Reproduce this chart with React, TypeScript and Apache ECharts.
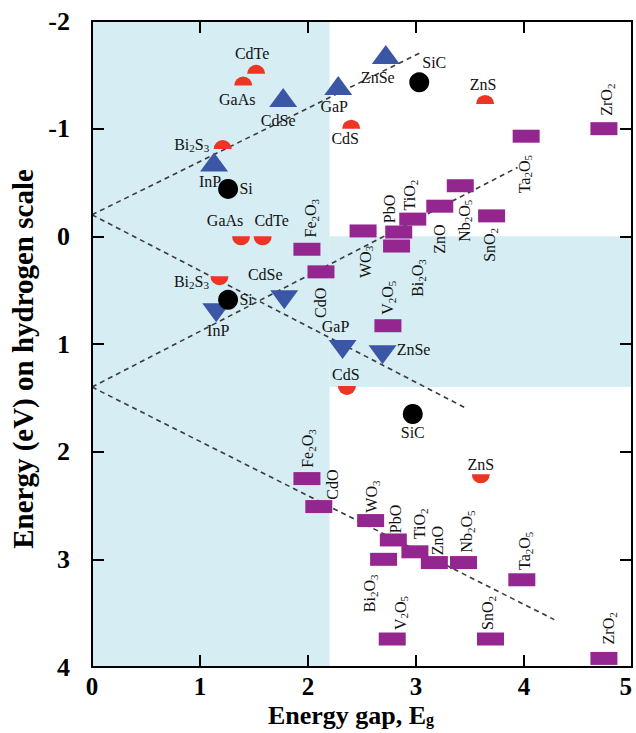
import React, { useEffect, useRef } from "react";
import * as echarts from "echarts";

// ---------- data ----------
const xTicks = [0, 1, 2, 3, 4, 5];
const yTicks = [-2, -1, 0, 1, 2, 3, 4];

// shaded regions [x0, y0, x1, y1]
const shadeLeft = [0, -2, 2.2, 4];
const shadeBand = [2.2, 0, 5, 1.4];

// dashed guide lines
const guideCBsemi = [[0, -0.2], [3.05, -1.71]];
const guideVBsemi = [[0, -0.2], [3.47, 1.6]];
const guideCBoxide = [[0, 1.4], [3.94, -0.64]];
const guideVBoxide = [[0, 1.4], [4.28, 3.56]];

// semiconductors drawn with half disks (red)
const redNames = ["CdTe", "GaAs", "Bi2S3", "CdS", "ZnS"];
const redCB = [[1.52, -1.51], [1.4, -1.4], [1.21, -0.81], [2.4, -1.0], [3.64, -1.23]];
const redVB = [[1.58, 0.0], [1.38, 0.0], [1.18, 0.37], [2.36, 1.39], [3.6, 2.21]];

// semiconductors drawn with triangles (blue)
const blueNames = ["InP", "CdSe", "GaP", "ZnSe"];
const blueCB = [[1.13, -0.69], [1.77, -1.29], [2.28, -1.4], [2.72, -1.69]];
const blueVB = [[1.15, 0.71], [1.78, 0.59], [2.32, 1.05], [2.69, 1.1]];

// semiconductors drawn with circles (black)
const blackNames = ["Si", "SiC"];
const blackCB = [[1.26, -0.44], [3.03, -1.43]];
const blackVB = [[1.26, 0.59], [2.97, 1.65]];

// oxides (purple boxes)
const oxideNames = ["Fe2O3", "CdO", "WO3", "PbO", "Bi2O3", "TiO2", "ZnO", "Nb2O5", "SnO2", "Ta2O5", "V2O5", "ZrO2"];
const oxideCB = [
  [1.99, 0.12], [2.12, 0.33], [2.51, -0.05], [2.84, -0.04], [2.82, 0.09], [2.97, -0.16],
  [3.22, -0.28], [3.41, -0.47], [3.7, -0.19], [4.02, -0.93], [2.74, 0.83], [4.74, -1.0],
];
const oxideVB = [
  [1.99, 2.25], [2.1, 2.51], [2.58, 2.64], [2.79, 2.82], [2.7, 3.0], [2.99, 2.93],
  [3.17, 3.03], [3.44, 3.03], [3.69, 3.74], [3.98, 3.19], [2.78, 3.74], [4.74, 3.92],
];

// ---------- layout (label offsets in screen px from the point) ----------
const cbLabelPos: Record<string, number[]> = {
  CdTe: [-4, -20], GaAs: [-6, 14], Bi2S3: [-31, -5], CdS: [-6, 10], ZnS: [-2, -19],
  InP: [-4, 19], CdSe: [-5, 23], GaP: [-4, 21], ZnSe: [-8, 23],
  Si: [18, 0], SiC: [15, -20],
  Fe2O3: [4, -31], CdO: [0, 31], WO3: [2, 31], PbO: [-9, -23], Bi2O3: [21, 32], TiO2: [-3, -24],
  ZnO: [0, 33], Nb2O5: [4, 35], SnO2: [-2, 29], Ta2O5: [-2, 38], V2O5: [0, -28], ZrO2: [3, -29],
};
const vbLabelPos: Record<string, number[]> = {
  GaAs: [-16, -16], CdTe: [9, -16], Bi2S3: [-28, 5], CdS: [-1, -11], ZnS: [0, -10],
  InP: [2, 18], CdSe: [-19, -25], GaP: [-7, -23], ZnSe: [31, -5],
  Si: [18, 0], SiC: [0, 19],
  Fe2O3: [1, -30], CdO: [14, -22], WO3: [1, -24], PbO: [2, -21], TiO2: [5, -28], ZnO: [3, -22],
  Nb2O5: [3, -31], Bi2O3: [-14, 34], V2O5: [8, -26], SnO2: [-3, -26], Ta2O5: [3, -29], ZrO2: [5, -30],
};

const FONT = "Liberation Serif";
const RED = "#ee3524";
const BLUE = "#3b56a5";
const PURPLE = "#93278f";
const SHADE = "#d6edf4";
const HALF_H = 9;

const subRich = {
  s: { fontSize: 11, fontFamily: FONT, color: "#111", padding: [8, 0, 0, 0] },
};
const toRich = (n: string) => n.replace(/(\d)/g, "{s|$1}");

function makeItems(names: string[], pts: number[][], pos: Record<string, number[]>, rotated: boolean, symDy: number) {
  return names.map((n, i) => {
    const p = pos[n] || [0, 0];
    const ax = p[0];
    const ay = p[1] - symDy;
    const offset = rotated ? [-ay, ax] : [ax, ay];
    return { name: n, value: pts[i], label: { offset } };
  });
}

function scatter(data: any[], symbol: string, size: any, color: string, extra: any = {}, rotated = false) {
  return {
    type: "scatter",
    data,
    symbol,
    symbolSize: size,
    itemStyle: { color, opacity: 1 },
    z: 3,
    silent: true,
    label: {
      show: true,
      position: "inside",
      rotate: rotated ? 90 : 0,
      formatter: (p: any) => toRich(p.name),
      fontFamily: FONT,
      fontSize: 16,
      color: "#111",
      rich: subRich,
    },
    emphasis: { disabled: true },
    ...extra,
  };
}

function guide(data: number[][]) {
  return {
    type: "line",
    data,
    symbol: "none",
    silent: true,
    z: 2,
    lineStyle: { type: [5, 4], color: "#3a3a3a", width: 1.6 },
  };
}

const DOME = "path://M0,10 A10,10 0 0 1 20,10 Z";
const BOWL = "path://M0,0 A10,10 0 0 0 20,0 Z";

export default function App() {
  const ref = useRef<HTMLDivElement>(null);
  useEffect(() => {
    if (!ref.current) return;
    const chart = echarts.init(ref.current, null, { renderer: "svg" });
    const axisLine = { show: true, onZero: false, lineStyle: { color: "#000", width: 2 } };
    const axisTick = { show: true, inside: true, length: 12, lineStyle: { color: "#000", width: 2 } };
    const tickLabel = { fontFamily: FONT, fontWeight: "bold", fontSize: 26, color: "#000" };
    chart.setOption({
      animation: false,
      backgroundColor: "#fff",
      grid: { left: 92, right: 4, top: 21, bottom: 66, containLabel: false, outerBoundsMode: "none" },
      xAxis: [
        {
          type: "value", min: xTicks[0], max: xTicks[xTicks.length - 1], interval: 1, position: "bottom", z: 10,
          axisLine, axisTick, splitLine: { show: false },
          axisLabel: { ...tickLabel, fontSize: 25, margin: 7, alignMaxLabel: "right" },
          name: "Energy gap, E{s|g}", nameLocation: "middle", nameGap: 35, nameMoveOverlap: false,
          nameTextStyle: {
            fontFamily: FONT, fontWeight: "bold", fontSize: 26, color: "#000",
            padding: [0, 22, 0, 0],
            rich: { s: { fontFamily: FONT, fontWeight: "bold", fontSize: 16, color: "#000", padding: [9, 0, 0, 0] } },
          },
        },
        {
          type: "value", min: xTicks[0], max: xTicks[xTicks.length - 1], interval: 1, position: "top", z: 10,
          axisLine, axisTick, splitLine: { show: false }, axisLabel: { show: false },
        },
      ],
      yAxis: [
        {
          type: "value", inverse: true, min: yTicks[0], max: yTicks[yTicks.length - 1], interval: 1, position: "left", z: 10,
          axisLine, axisTick, splitLine: { show: false },
          axisLabel: { ...tickLabel, margin: 22 },
          name: "Energy (eV) on hydrogen scale", nameLocation: "middle", nameGap: 54,
          nameTextStyle: { fontFamily: FONT, fontWeight: "bold", fontSize: 29, color: "#000", padding: [0, 30, 0, 0] },
        },
        {
          type: "value", inverse: true, min: yTicks[0], max: yTicks[yTicks.length - 1], interval: 1, position: "right", z: 10,
          axisLine, axisTick, splitLine: { show: false }, axisLabel: { show: false },
        },
      ],
      series: [
        {
          type: "scatter", data: [], z: 1, silent: true,
          markArea: {
            silent: true,
            itemStyle: { color: SHADE, opacity: 1 },
            data: [
              [{ coord: [shadeLeft[0], shadeLeft[1]] }, { coord: [shadeLeft[2], shadeLeft[3]] }],
              [{ coord: [shadeBand[0], shadeBand[1]] }, { coord: [shadeBand[2], shadeBand[3]] }],
            ],
          },
        },
        guide(guideCBsemi),
        guide(guideVBsemi),
        guide(guideCBoxide),
        guide(guideVBoxide),
        scatter(makeItems(redNames, redCB, cbLabelPos, false, -HALF_H / 2), DOME, [18, HALF_H], RED, { symbolOffset: [0, "-50%"] }),
        scatter(makeItems(redNames, redVB, vbLabelPos, false, HALF_H / 2), BOWL, [18, HALF_H], RED, { symbolOffset: [0, "50%"] }),
        scatter(makeItems(blueNames, blueCB, cbLabelPos, false, 0), "triangle", [28, 19], BLUE),
        scatter(makeItems(blueNames, blueVB, vbLabelPos, false, 0), "triangle", [28, 19], BLUE, { symbolRotate: 180 }),
        scatter(makeItems(blackNames, blackCB, cbLabelPos, false, 0), "circle", 20, "#000"),
        scatter(makeItems(blackNames, blackVB, vbLabelPos, false, 0), "circle", 20, "#000"),
        scatter(makeItems(oxideNames, oxideCB, cbLabelPos, true, 0), "rect", [27, 13], PURPLE, {}, true),
        scatter(makeItems(oxideNames, oxideVB, vbLabelPos, true, 0), "rect", [27, 13], PURPLE, {}, true),
      ],
    });
    return () => chart.dispose();
  }, []);
  return (
    <div
      ref={ref}
      style={{ position: "fixed", left: 0, top: 0, width: 636, height: 733, background: "#fff" }}
    />
  );
}
